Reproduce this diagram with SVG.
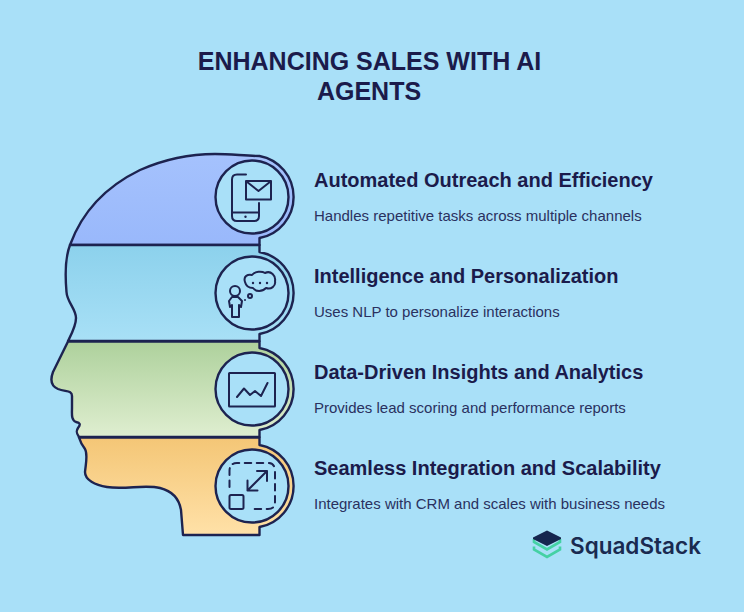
<svg xmlns="http://www.w3.org/2000/svg" width="744" height="612" viewBox="0 0 744 612">
<style>
.o{stroke:#1d2350;stroke-width:2.4;stroke-linejoin:round;stroke-linecap:round}
.c{fill:#a9e0f8;stroke:#1d2350;stroke-width:2.4}
.i{fill:none;stroke:#1d2350;stroke-width:2;stroke-linejoin:round;stroke-linecap:round}
.m{fill:none;stroke:#45d1a4;stroke-width:2.600}
text{font-family:"Liberation Sans",Arial,sans-serif;fill:#1b1b4b}
.t{font-size:25px;font-weight:700;text-anchor:middle}
.h{font-size:20px;font-weight:700}
.d{font-size:15px;fill:#2a3160}
</style>
<defs>
<linearGradient id="g1" x1="0" y1="0" x2="0" y2="1"><stop offset="0" stop-color="#a5c2fd"/><stop offset="1" stop-color="#99b8fb"/></linearGradient>
<linearGradient id="g2" x1="0" y1="0" x2="0" y2="1"><stop offset="0" stop-color="#8cd1ec"/><stop offset="1" stop-color="#a8e0f6"/></linearGradient>
<linearGradient id="g3" x1="0" y1="0" x2="0" y2="1"><stop offset="0" stop-color="#aed19c"/><stop offset="1" stop-color="#dfeed0"/></linearGradient>
<linearGradient id="g4" x1="0" y1="0" x2="0" y2="1"><stop offset="0" stop-color="#f4c676"/><stop offset="1" stop-color="#ffe1a8"/></linearGradient>
</defs>
<rect width="744" height="612" fill="#a9e0f8"/>
<text class="t" x="369.500" y="70">ENHANCING SALES WITH AI</text>
<text class="t" x="369" y="100">AGENTS</text>
<g id="connectors"></g>
<g id="node-1">
<path class="o" fill="url(#g1)" d="M70 245C82 212 105 187 140 170C165 159 190 154 215 154C232 154 245 156 259.500 156A41.700 41.700 0 0 1 259.500 238V245Z"/>
<circle class="c" cx="252" cy="197" r="36.500"/>
<g class="i"><path d="M246 174.500H237Q232 174.500 232 179.500V216Q232 221 237 221H254Q259 221 259 216V203M232 212.500H259"/><rect x="246" y="181" width="25" height="18.500"/><path d="M246.500 181.500L258.500 191L270.500 181.500"/></g>
<circle cx="245.500" cy="216.800" r="1.200" fill="#1d2350"/>
<text class="h" x="314" y="187">Automated Outreach and Efficiency</text>
<text class="d" x="314" y="221">Handles repetitive tasks across multiple channels</text>
</g>
<g id="node-2">
<path class="o" fill="url(#g2)" d="M70 245L259.500 245V252A41.700 41.700 0 0 1 259.500 334V341L68 341C72 333 76 326 76 318C76 309 67 302 66.500 292C65 275 65 258 70 245Z"/>
<circle class="c" cx="252" cy="293" r="36.500"/>
<g class="i"><circle cx="235" cy="291" r="5"/><path d="M232 297H238L242 301L241 307L239 305V317H232V305L230 307L229 301Z"/><path d="M245 282C243 276 248 274 252 275C255 271 262 271 265 273C271 270 276 276 275 281C276 286 271 290 266 288C262 292 256 292 253 288C249 288 246 286 245 282Z"/><circle cx="250" cy="296" r="2"/></g>
<circle cx="245" cy="300" r="1" fill="#1d2350"/><circle cx="253" cy="283" r="1.200" fill="#1d2350"/><circle cx="260" cy="283" r="1.200" fill="#1d2350"/><circle cx="267" cy="283" r="1.200" fill="#1d2350"/>
<text class="h" x="314" y="283">Intelligence and Personalization</text>
<text class="d" x="314" y="317">Uses NLP to personalize interactions</text>
</g>
<g id="node-3">
<path class="o" fill="url(#g3)" d="M68 341.500H259.500V348A41.700 41.700 0 0 1 259.500 430V437H79C76 433 76 431 78 428C81 424 80 423 76 422C71 420 72 414 72 408V396C72 390 66 392 58 389C51 386 50 380 53 372Z"/>
<circle class="c" cx="252" cy="389" r="36.500"/>
<g class="i"><rect x="229" y="373" width="46" height="33.500" rx=".5"/><path d="M237 397L244 388.500L250 395L255 391L261 396L267.500 383"/></g>
<text class="h" x="314" y="379">Data-Driven Insights and Analytics</text>
<text class="d" x="314" y="413">Provides lead scoring and performance reports</text>
</g>
<g id="node-4">
<path class="o" fill="url(#g4)" d="M79 437.500H259.500V445A41.700 41.700 0 0 1 259.500 527V535H183L181 510C179 498 172 491 160 488C145 484 125 490 107 487C95 485 85 480 85 472C86 462 88 454 85 449C82 445 80 441 79 437.500Z"/>
<circle class="c" cx="252" cy="486" r="36.500"/>
<g class="i"><rect x="229.500" y="495" width="14" height="14" rx="1.500"/><path d="M229.500 487V471Q229.500 463 237 463H268Q275 463 275 471V502Q275 509 268 509H250" stroke-dasharray="6.500 5.500"/><path d="M247.500 490.500L267 471M257 471H267V481M247.500 480.500V490.500H257.500"/></g>
<text class="h" x="314" y="475">Seamless Integration and Scalability</text>
<text class="d" x="314" y="509">Integrates with CRM and scales with business needs</text>
</g>
<g id="logo">
<path class="m" d="M534 539V542L547 549.500L560 542V539"/>
<path class="m" d="M534 546.500V549.500L547 557L560 549.500V546.500"/>
<path d="M533 537.500L547 530.500L561 537.500V539L547 546L533 539Z" fill="#16264f"/>
<text x="570" y="553.500" style="font-family:Inter,sans-serif;font-size:22.500px;font-weight:600;fill:#1a2a50">SquadStack</text>
</g>
</svg>
